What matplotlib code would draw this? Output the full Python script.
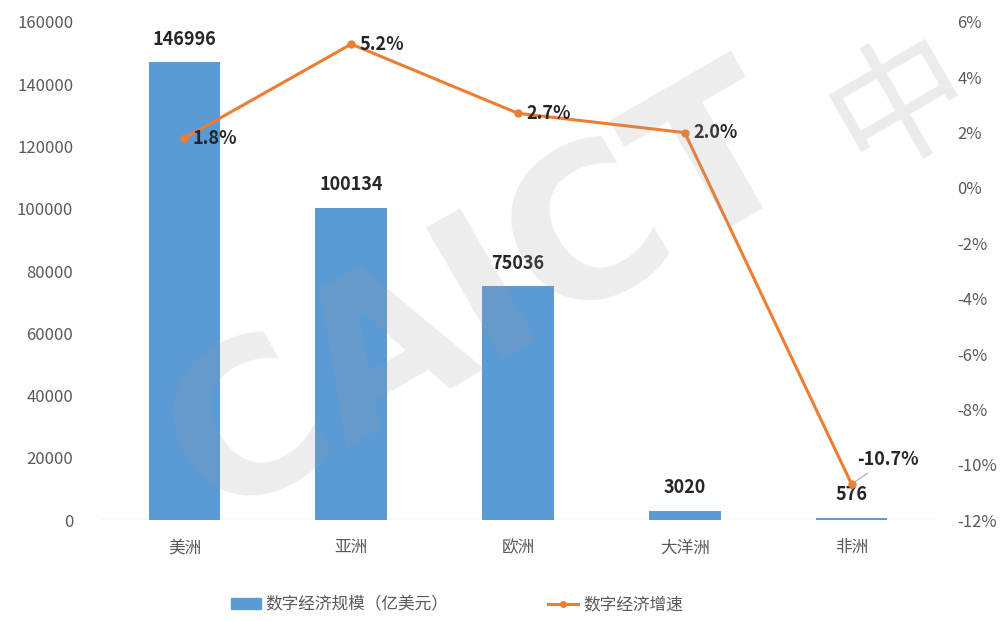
import matplotlib.pyplot as plt
import numpy as np
from matplotlib.lines import Line2D
from matplotlib.patches import Patch

plt.rcParams['font.family'] = ['Noto Sans CJK SC', 'DejaVu Sans']

regions = ['美洲', '亚洲', '欧洲', '大洋洲', '非洲']
scale = [146996, 100134, 75036, 3020, 576]
growth = [1.8, 5.2, 2.7, 2.0, -10.7]

bar_color = '#5B9BD5'
line_color = '#ED7D31'
tick_color = '#595959'

fig = plt.figure(figsize=(10.02, 6.21), dpi=100)
ax = fig.add_axes([0.1008, 0.1626, 0.8323, 0.802])
ax2 = ax.twinx()

x = np.arange(len(regions))
ax.bar(x, scale, width=0.43, color=bar_color, zorder=2)
ax.set_xlim(-0.5, len(regions) - 0.5)
ax.set_ylim(0, 160000)
ax.set_yticks(np.arange(0, 160001, 20000))
ax.set_xticks(x)
ax.set_xticklabels(regions, fontsize=12)

ax2.plot(x, growth, color=line_color, lw=2.2, marker='o', ms=5, zorder=3)
ax2.set_ylim(-12, 6)
ax2.set_yticks(np.arange(-12, 7, 2))
ax2.set_yticklabels([f'{v}%' for v in range(-12, 7, 2)])

for a in (ax, ax2):
    for s in a.spines.values():
        s.set_visible(False)
    a.tick_params(length=0, colors=tick_color, labelsize=12)
ax.tick_params(axis='y', pad=20)
ax.tick_params(axis='x', pad=14)
ax2.tick_params(axis='y', pad=16)
ax.axhline(0, color='#d9d9d9', lw=1, zorder=1)

# watermark
fig.text(0.48, 0.52, 'CAICT', fontsize=150, fontweight='bold', color='#9a9a9a',
         alpha=0.18, rotation=30, ha='center', va='center', family='DejaVu Sans')
fig.text(0.90, 0.83, '中', fontsize=100, color='#9a9a9a', alpha=0.2,
         rotation=30, ha='center', va='center')

# bar labels
for xi, v in zip(x, scale):
    ax.annotate(f'{v}', (xi, v), xytext=(0, 10), textcoords='offset points',
                ha='center', va='bottom', fontsize=13, fontweight='bold', color='#262626')

# line labels
for xi, g in zip(x, growth):
    if g < -5:
        ax2.annotate(f'{g}%', (xi, g), xytext=(4, 11), textcoords='offset points',
                     ha='left', va='bottom', fontsize=13, fontweight='bold', color='#262626',
                     arrowprops=dict(arrowstyle='-', color='#a6a6a6', lw=0.8))
    else:
        ax2.annotate(f'{g}%', (xi, g), xytext=(6, 0), textcoords='offset points',
                     ha='left', va='center', fontsize=13, fontweight='bold', color='#262626')

handles = [Patch(color=bar_color),
           Line2D([], [], color=line_color, lw=2.2, marker='o', ms=4)]
fig.legend(handles, ['数字经济规模（亿美元）', '数字经济增速'], loc='center',
           bbox_to_anchor=(0.456, 0.026), ncol=2, frameon=False, fontsize=12,
           columnspacing=6, handlelength=1.8, handletextpad=0.3,
           labelcolor=tick_color)

fig.savefig('out.png', dpi=100)
